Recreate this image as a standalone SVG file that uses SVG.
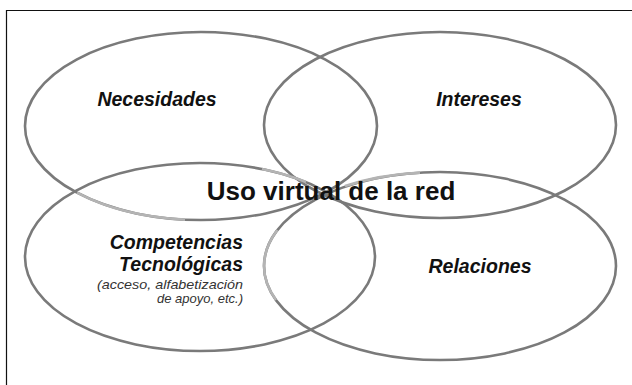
<svg xmlns="http://www.w3.org/2000/svg" width="632" height="385" viewBox="0 0 632 385">
<style>
.ring{fill:none;stroke:#7a7a7a;stroke-width:2.6}
.light{fill:none;stroke:#b4b4b4;stroke-width:2.6}
.lbl{font-family:"Liberation Sans",Arial,sans-serif;font-weight:bold;font-style:italic;font-size:19.5px;fill:#111}
.sub{font-family:"Liberation Sans",Arial,sans-serif;font-style:italic;font-size:13px;fill:#333}
.center{font-family:"Liberation Sans",Arial,sans-serif;font-weight:bold;font-size:26px;fill:#111}
</style>
<rect x="0" y="0" width="632" height="385" fill="#ffffff"/>
<g id="frame">
<line x1="6" y1="10.5" x2="632" y2="10.5" stroke="#111" stroke-width="1.2"/>
<line x1="6.5" y1="10" x2="6.5" y2="385" stroke="#111" stroke-width="1.2"/>
</g>
<g id="necesidades">
<ellipse class="ring" cx="201" cy="126" rx="176" ry="94"/>
<text class="lbl" x="157" y="106" text-anchor="middle">Necesidades</text>
</g>
<g id="intereses">
<ellipse class="ring" cx="440" cy="125" rx="176" ry="93"/>
<text class="lbl" x="479" y="106" text-anchor="middle">Intereses</text>
</g>
<g id="competencias">
<ellipse class="ring" cx="200" cy="257" rx="175" ry="94"/>
<text class="lbl" x="243" y="249" text-anchor="end">Competencias</text>
<text class="lbl" x="243" y="271" text-anchor="end">Tecnológicas</text>
<text class="sub" x="243" y="288.5" text-anchor="end" textLength="146" lengthAdjust="spacingAndGlyphs">(acceso, alfabetización</text>
<text class="sub" x="243" y="303" text-anchor="end">de apoyo, etc.)</text>
</g>
<g id="relaciones">
<ellipse class="ring" cx="440" cy="266" rx="176" ry="94"/>
<text class="lbl" x="480" y="273" text-anchor="middle">Relaciones</text>
</g>
<g id="connectors">
<path class="light" d="M77,192.7 A176,94 0 0 0 185,219.6"/>
<path class="light" d="M262,169 A175,94 0 0 1 306,182"/>
<path class="light" d="M345,186 A176,94 0 0 1 420,172.6"/>
<path class="light" d="M277.4,230 A176,94 0 0 0 276,300"/>
</g>
<g id="uso-virtual">
<text class="center" x="331" y="200" text-anchor="middle">Uso virtual de la red</text>
</g>
</svg>
